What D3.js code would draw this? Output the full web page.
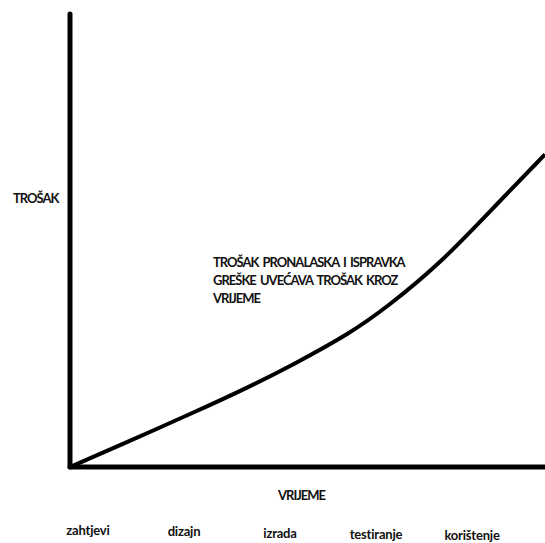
<!DOCTYPE html>
<html>
<head>
<meta charset="utf-8">
<script src="https://cdn.jsdelivr.net/npm/d3@7"></script>
<style>
  body { margin: 0; background: #fff; }
  svg { display: block; }
  text { font-family: Lato, "Open Sans", sans-serif; font-weight: bold; fill: #111; font-size: 13px; }
  text.caps { letter-spacing: -1px; word-spacing: 2px; }
  text.faza { letter-spacing: -0.2px; }
</style>
</head>
<body>
<svg></svg>
<script>
var width = 545;
var height = 543;

// vrijeme (0-100) i trošak (0-100) očitano sa slike
var vrijeme = [0, 12, 26, 37, 47, 59, 67, 78, 88, 100];
var trosak  = [0, 5.5, 12, 17.3, 22.6, 29.5, 35.5, 45, 56, 69];

var faze = ['zahtjevi', 'dizajn', 'izrada', 'testiranje', 'korištenje'];

var napomena = ['TROŠAK PRONALASKA I ISPRAVKA', 'GREŠKE UVEĆAVA TROŠAK KROZ', 'VRIJEME'];

var x = d3.scaleLinear().domain([0, 100]).range([70, 545]);
var y = d3.scaleLinear().domain([0, 100]).range([467, 14]);
var fx = d3.scalePoint().domain(faze).range([88, 472]);

var svg = d3.select('svg')
    .attr('width', width)
    .attr('height', height);

var data = vrijeme.map(function(v, i) { return {x: v, y: trosak[i]}; });

var line = d3.line()
    .x(function(d) { return x(d.x); })
    .y(function(d) { return y(d.y); })
    .curve(d3.curveBasis);

svg.append('path')
    .datum(data)
    .attr('d', line)
    .attr('fill', 'none')
    .attr('stroke', '#000')
    .attr('stroke-width', 4);

// osi
svg.append('line')
    .attr('x1', x(0)).attr('y1', y(100))
    .attr('x2', x(0)).attr('y2', y(0))
    .attr('stroke', '#000')
    .attr('stroke-width', 5)
    .attr('stroke-linecap', 'round');

svg.append('line')
    .attr('x1', x(0)).attr('y1', y(0))
    .attr('x2', x(100) + 5).attr('y2', y(0))
    .attr('stroke', '#000')
    .attr('stroke-width', 5)
    .attr('stroke-linecap', 'round');

svg.append('text')
    .attr('class', 'caps')
    .attr('x', 13).attr('y', 203)
    .text('TROŠAK');

svg.append('text')
    .attr('class', 'caps')
    .attr('x', 278).attr('y', 500)
    .text('VRIJEME');

svg.append('g').selectAll('text')
    .data(napomena)
    .enter().append('text')
      .attr('class', 'caps')
      .attr('x', 213)
      .attr('y', function(d, i) { return 267 + i * 18; })
      .text(function(d) { return d; });

svg.append('g').selectAll('text')
    .data(faze)
    .enter().append('text')
      .attr('class', 'faza')
      .attr('x', function(d) { return fx(d); })
      .attr('y', function(d, i) { return 535 + i * 1.3; })
      .attr('text-anchor', 'middle')
      .text(function(d) { return d; });
</script>
</body>
</html>
